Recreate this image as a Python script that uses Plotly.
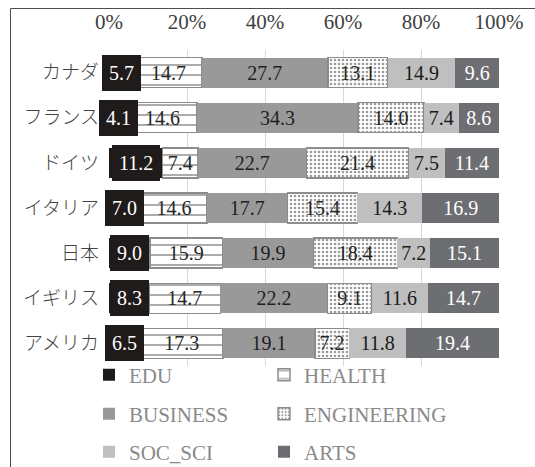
import numpy as np
import plotly.graph_objects as go

# Share of graduates by field (values as printed on each segment)
countries = ["カナダ", "フランス", "ドイツ", "イタリア", "日本", "イギリス", "アメリカ"]
edu = [5.7, 4.1, 11.2, 7.0, 9.0, 8.3, 6.5]
health = [14.7, 14.6, 7.4, 14.6, 15.9, 14.7, 17.3]
business = [27.7, 34.3, 22.7, 17.7, 19.9, 22.2, 19.1]
engineering = [13.1, 14.0, 21.4, 15.4, 18.4, 9.1, 7.2]
soc_sci = [14.9, 7.4, 7.5, 14.3, 7.2, 11.6, 11.8]
arts = [9.6, 8.6, 11.4, 16.9, 15.1, 14.7, 19.4]
x_ticks = [0, 20, 40, 60, 80, 100]

SERIF = "Liberation Serif"
CJK = "Noto Sans CJK JP"
NUM_SIZE = 20

W, H = 535, 467
ML, MR, MT, MB = 109, 36, 50, 101
PW, PH = W - ML - MR, H - MT - MB


def px_x(p):
    return (p - ML) / PW


def px_y(p):
    return (H - MB - p) / PH


def labels(vals):
    return [f"{v:.1f}" for v in vals]


fig = go.Figure()

# legend slot: (left px, middle px) for a two-column, three-row key
COL = [89, 264]
ROW = [375, 414, 452]

series = [
    dict(name="EDU", vals=edu, slot=(0, 0),
         marker=dict(color="#1f1b1b", line=dict(color="#1f1b1b", width=0)),
         textcolor="white", show_text=False),
    dict(name="HEALTH", vals=health, slot=(1, 0),
         marker=dict(color="white", line=dict(color="#8c8c8c", width=1.5),
                     pattern=dict(shape="-", size=10, solidity=0.15,
                                  fgcolor="#222222", bgcolor="white")),
         textcolor="#262626", show_text=True),
    dict(name="BUSINESS", vals=business, slot=(0, 1),
         marker=dict(color="#999999", line=dict(width=0)),
         textcolor="#1f1f1f", show_text=True),
    dict(name="ENGINEERING", vals=engineering, slot=(1, 1),
         marker=dict(color="white", line=dict(color="#8c8c8c", width=1.5),
                     pattern=dict(shape=".", size=4, solidity=0.35,
                                  fgcolor="#3a3a3a", bgcolor="white")),
         textcolor="#262626", show_text=True),
    dict(name="SOC_SCI", vals=soc_sci, slot=(0, 2),
         marker=dict(color="#bfbfbf", line=dict(width=0)),
         textcolor="#1a1a1a", show_text=True),
    dict(name="ARTS", vals=arts, slot=(1, 2),
         marker=dict(color="#6d6e71", line=dict(width=0)),
         textcolor="white", show_text=True),
]

legend_layouts = {}
for i, s in enumerate(series):
    key = "legend" if i == 0 else f"legend{i + 1}"
    col, row = s["slot"]
    legend_layouts[key] = dict(
        orientation="h", xanchor="left", yanchor="middle",
        x=px_x(COL[col]), y=px_y(ROW[row]),
        font=dict(family=SERIF, size=21, color="#8a8a8a"),
        bgcolor="rgba(0,0,0,0)", itemclick=False, itemdoubleclick=False,
    )
    fig.add_trace(go.Bar(
        orientation="h",
        y=countries,
        x=s["vals"],
        name=s["name"],
        legend=key,
        marker=s["marker"],
        text=labels(s["vals"]) if s["show_text"] else None,
        textposition="inside" if s["show_text"] else "none",
        insidetextanchor="middle",
        textangle=0,
        constraintext="none",
        textfont=dict(family=SERIF, size=NUM_SIZE, color=s["textcolor"]),
        hoverinfo="skip",
    ))

# EDU values sit in solid dark label boxes centred on their segments
totals = np.sum([edu, health, business, engineering, soc_sci, arts], axis=0)
edu_pct = np.array(edu) / totals * 100
for c, v, p in zip(countries, edu, edu_pct):
    fig.add_annotation(
        x=p / 2, y=c, xref="x", yref="y",
        text=f"{v:.1f}", showarrow=False,
        font=dict(family=SERIF, size=NUM_SIZE, color="white"),
        bgcolor="#1f1b1b", borderpad=7, borderwidth=0,
    )

fig.update_layout(
    width=W, height=H,
    margin=dict(l=ML, r=MR, t=MT, b=MB, autoexpand=False),
    paper_bgcolor="white", plot_bgcolor="white",
    barmode="stack", barnorm="percent", bargap=0.335,
    uniformtext=dict(minsize=NUM_SIZE, mode="show"),
    xaxis=dict(
        side="top", range=[0, 100], tickvals=x_ticks,
        ticktext=[f"{t}%" for t in x_ticks],
        showgrid=True, gridcolor="#d9d9d9", gridwidth=1,
        zeroline=False, showline=False, ticks="",
        ticklabelstandoff=16,
        tickfont=dict(family=SERIF, size=21, color="#404040"),
        fixedrange=True,
    ),
    yaxis=dict(
        autorange="reversed", showgrid=False, zeroline=False,
        showline=False, ticks="", ticklabelstandoff=9,
        tickfont=dict(family=CJK, size=19, color="#444444", weight=300),
        fixedrange=True,
    ),
    showlegend=True,
    **legend_layouts,
)

# Chart-area frame (top and left edges)
frame = dict(type="line", xref="paper", yref="paper",
             line=dict(color="#4d4d4d", width=1), layer="above")
fig.add_shape(frame, x0=px_x(10.5), x1=px_x(540), y0=px_y(8.5), y1=px_y(8.5))
fig.add_shape(frame, x0=px_x(10.5), x1=px_x(10.5), y0=px_y(8.5), y1=px_y(475))

fig.write_html("out.html")
